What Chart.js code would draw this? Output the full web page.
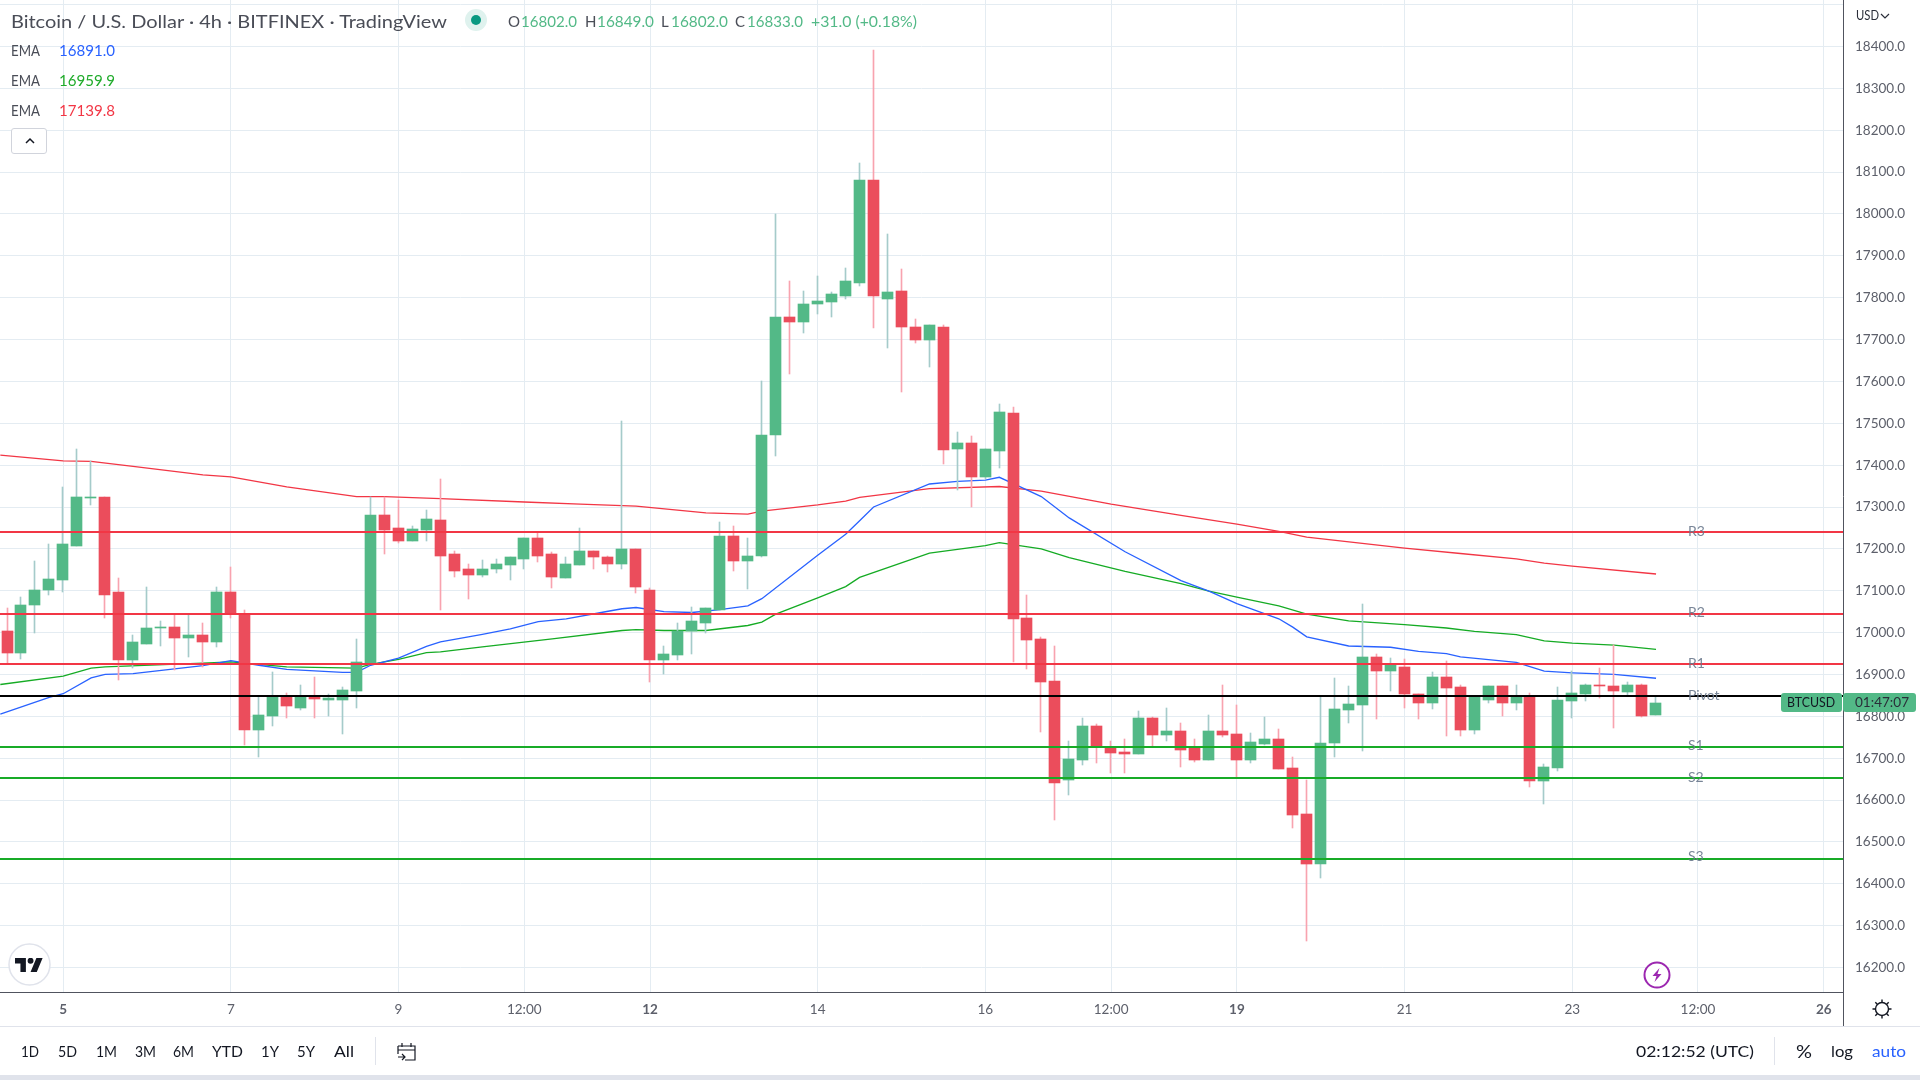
<!DOCTYPE html>
<html>
<head>
<meta charset="utf-8">
<script src="https://cdn.jsdelivr.net/npm/chart.js@4"></script>
<style>
html,body{margin:0;padding:0;background:#fff;overflow:hidden;width:1920px;height:1080px;font-family:"Lato",sans-serif}
canvas{position:absolute;left:0;top:0;display:block}
.t{position:absolute;white-space:nowrap;line-height:20px;height:20px;transform-origin:0 50%}
.g{color:#53b987}.k{color:#4a4d57}
.box{position:absolute;background:#53b987;border-radius:3px}
.ln{position:absolute;background:#e0e3eb}
svg{position:absolute}
</style>
</head>
<body>
<canvas id="c" width="1920" height="1080"></canvas>

<div class="ln" style="left:0;top:1026px;width:1920px;height:1px"></div>
<div class="ln" style="left:0;top:1075px;width:1920px;height:5px"></div>
<div class="ln" style="left:1843px;top:992px;width:1px;height:34px;background:#50535e"></div>
<div class="ln" style="left:375px;top:1037px;width:1px;height:28px"></div>
<div class="ln" style="left:1774px;top:1037px;width:1px;height:28px"></div>

<div class="t k" style="left:11px;top:11px;font-size:18px" data-w="436">Bitcoin / U.S. Dollar · 4h · BITFINEX · TradingView</div>
<svg style="left:465px;top:9px" width="22" height="22"><circle cx="11" cy="11" r="11" fill="#dff2ee"/><circle cx="11" cy="11" r="5" fill="#089981"/></svg>
<div class="t k" style="left:508px;top:11px;font-size:15px">O</div>
<div class="t g" style="left:521px;top:11px;font-size:15px" data-w="56">16802.0</div>
<div class="t k" style="left:585px;top:11px;font-size:15px">H</div>
<div class="t g" style="left:597px;top:11px;font-size:15px" data-w="57">16849.0</div>
<div class="t k" style="left:661px;top:11px;font-size:15px">L</div>
<div class="t g" style="left:671px;top:11px;font-size:15px" data-w="57">16802.0</div>
<div class="t k" style="left:735px;top:11px;font-size:15px">C</div>
<div class="t g" style="left:747px;top:11px;font-size:15px" data-w="56">16833.0</div>
<div class="t g" style="left:811px;top:11px;font-size:15px" data-w="106">+31.0 (+0.18%)</div>

<div class="t k" style="left:11px;top:40px;font-size:15px" data-w="29">EMA</div>
<div class="t" style="left:59px;top:40px;font-size:15px;color:#2962ff" data-w="56">16891.0</div>
<div class="t k" style="left:11px;top:70px;font-size:15px" data-w="29">EMA</div>
<div class="t" style="left:59px;top:70px;font-size:15px;color:#1fab2a" data-w="56">16959.9</div>
<div class="t k" style="left:11px;top:100px;font-size:15px" data-w="29">EMA</div>
<div class="t" style="left:59px;top:100px;font-size:15px;color:#f23645" data-w="56">17139.8</div>
<div style="position:absolute;left:11px;top:128px;width:36px;height:26px;box-sizing:border-box;border:1px solid #d1d4dc;border-radius:3px;background:#fff"></div>
<svg style="left:24px;top:136px" width="12" height="10"><path d="M2 7 L6 3 L10 7" fill="none" stroke="#131722" stroke-width="1.5"/></svg>

<div class="t" style="left:1856px;top:6px;font-size:12.5px;color:#2a2e39" data-w="23">USD</div>
<svg style="left:1880px;top:12px" width="10" height="8"><path d="M1 2 L5 6 L9 2" fill="none" stroke="#2a2e39" stroke-width="1.2"/></svg>

<div class="box" style="left:1781px;top:693px;width:61px;height:19px"></div>
<div class="t" style="left:1787px;top:693px;font-size:13.5px;color:#131722;height:19px;line-height:19px" data-w="48">BTCUSD</div>
<div class="box" style="left:1843px;top:693px;width:73px;height:19px"></div>
<div class="t" style="left:1855px;top:693px;font-size:13.5px;color:#2a2e39;height:19px;line-height:19px" data-w="54">01:47:07</div>

<svg style="left:8px;top:943px" width="43" height="43"><circle cx="21.5" cy="21.5" r="20.5" fill="#fff" stroke="#e0e3eb" stroke-width="1.5"/></svg>
<svg style="left:15px;top:958px" width="28" height="14" viewBox="0 4 36 18"><path fill="#131722" d="M14 22H7V11H0V4h14v18zM28 22h-8l7.5-18h8L28 22z"/><circle cx="20" cy="7.5" r="3.8" fill="#131722"/></svg>

<svg style="left:1643px;top:961px" width="28" height="28"><circle cx="14" cy="14" r="12.5" fill="#fff" stroke="#9c27b0" stroke-width="2"/><path d="M16.5 7 L9.5 15 H13.5 L11.5 21 L18.5 13 H14.5 Z" fill="#9c27b0"/></svg>

<svg style="left:1871px;top:998px" width="22" height="22" fill="none" stroke="#131722" stroke-width="1.4"><circle cx="11" cy="11" r="6.5"/><path d="M11 1.5v3M11 17.5v3M1.5 11h3M17.5 11h3M4.3 4.3l2 2M15.7 15.7l2 2M4.3 17.7l2-2M15.7 6.3l2-2"/></svg>

<div class="t" style="left:21px;top:1041px;font-size:16px;color:#131722" data-w="18">1D</div>
<div class="t" style="left:58px;top:1041px;font-size:16px;color:#131722" data-w="19">5D</div>
<div class="t" style="left:96px;top:1041px;font-size:16px;color:#131722" data-w="21">1M</div>
<div class="t" style="left:135px;top:1041px;font-size:16px;color:#131722" data-w="21">3M</div>
<div class="t" style="left:173px;top:1041px;font-size:16px;color:#131722" data-w="21">6M</div>
<div class="t" style="left:212px;top:1041px;font-size:16px;color:#131722" data-w="31">YTD</div>
<div class="t" style="left:261px;top:1041px;font-size:16px;color:#131722" data-w="18">1Y</div>
<div class="t" style="left:297px;top:1041px;font-size:16px;color:#131722" data-w="18">5Y</div>
<div class="t" style="left:334px;top:1041px;font-size:16px;color:#131722" data-w="20">All</div>
<svg style="left:396px;top:1040px" width="22" height="22" fill="none" stroke="#131722" stroke-width="1.2"><path d="M2 6h17v14H9M2 6v8M2 10h17M6 3v4M15 3v4M2 17h7M6 14l3 3-3 3"/></svg>

<div class="t" style="left:1636px;top:1041px;font-size:16px;color:#131722" data-w="118">02:12:52 (UTC)</div>
<div class="t" style="left:1796px;top:1041px;font-size:18px;color:#131722" data-w="16">%</div>
<div class="t" style="left:1831px;top:1041px;font-size:16px;color:#131722" data-w="22">log</div>
<div class="t" style="left:1872px;top:1041px;font-size:16px;color:#2962ff" data-w="34">auto</div>

<script>
const opens=[17003,16951,17065,17101,17125,17208,17321,17325,17096,16934,16972,17010,17013,16986,16994,16977,17096,17044,16767,16800,16845,16821,16845,16838,16838,16860,16924,17280,17249,17220,17244,17268,17187,17151,17137,17153,17161,17175,17225,17187,17130,17161,17194,17180,17165,17199,17101,16934,16946,17003,17024,17055,17230,17170,17182,17471,17753,17743,17784,17789,17805,17836,18080,17798,17817,17731,17698,17731,17438,17454,17371,17433,17524,17034,16984,16884,16647,16695,16776,16724,16714,16709,16795,16755,16764,16724,16695,16764,16757,16695,16733,16745,16676,16566,16447,16736,16814,16826,16941,16908,16917,16853,16833,16893,16869,16767,16838,16872,16833,16845,16645,16676,16836,16853,16874,16872,16857,16874,16802];
const highs=[17059,17084,17170,17211,17348,17438,17410,17325,17130,16994,17110,17027,17044,17044,17022,17110,17156,17053,16845,16905,16855,16874,16895,16853,16869,16984,17323,17323,17316,17254,17292,17366,17194,17163,17173,17175,17180,17225,17239,17192,17180,17249,17196,17182,17505,17199,17106,16967,17022,17060,17058,17263,17254,17227,17600,18001,17841,17817,17853,17813,17872,18121,18391,17951,17868,17748,17734,17734,17478,17469,17438,17545,17538,17091,16989,16967,16740,16795,16781,16740,16745,16812,16798,16819,16783,16745,16802,16874,16826,16760,16798,16769,16702,16647,16846,16891,16872,17068,16948,16939,16936,16853,16905,16931,16874,16845,16872,16872,16874,16855,16685,16869,16908,16877,16915,16970,16881,16877,16849];
const lows=[16926,16937,16999,17091,17096,17208,17304,17036,16886,16916,16972,16967,16910,16941,16917,16965,17034,16731,16702,16778,16795,16814,16795,16800,16757,16819,16924,17187,17213,17218,17220,17053,17134,17080,17132,17142,17125,17153,17168,17106,17130,17161,17153,17144,17153,17094,16881,16900,16934,16948,16998,17055,17146,17103,17180,17421,17617,17715,17762,17753,17798,17829,17727,17679,17574,17691,17634,17402,17340,17300,17368,17392,16929,16912,16762,16552,16611,16683,16688,16664,16664,16709,16728,16740,16678,16690,16695,16750,16654,16688,16731,16674,16533,16263,16413,16702,16783,16716,16793,16860,16819,16793,16817,16752,16752,16757,16831,16800,16814,16631,16590,16669,16795,16836,16843,16771,16849,16798,16802];
const closes=[16951,17065,17101,17127,17211,17323,17325,17091,16934,16977,17010,17013,16986,16994,16977,17096,17044,16767,16802,16845,16824,16845,16841,16843,16862,16929,17280,17244,17220,17247,17271,17184,17146,17137,17153,17163,17180,17225,17182,17132,17163,17194,17180,17163,17199,17108,16934,16948,17003,17027,17058,17230,17170,17182,17473,17753,17743,17786,17793,17808,17839,18080,17803,17813,17729,17698,17734,17435,17454,17371,17438,17526,17032,16982,16881,16640,16697,16776,16728,16712,16709,16795,16755,16764,16719,16695,16764,16755,16695,16738,16745,16674,16564,16447,16736,16817,16829,16941,16908,16922,16853,16833,16893,16867,16767,16845,16872,16833,16848,16645,16678,16838,16855,16874,16872,16860,16874,16800,16833];

const emaFastIdx=[-0.5,3,4,6,7,9,14,16,18,20,24,25,26,28,30,31,34,36,38,40,43,44,45,47,49,51,53,54,58,60,61,62,66,68,70,71,72,74,76,80,84,86,88,91,92,93,96,99,101,103,104,108,110,112,115,118];
const emaFastVal=[16805,16845,16854,16892,16900,16902,16921,16933,16922,16912,16905,16905,16922,16939,16967,16978,16996,17009,17026,17033,17051,17057,17060,17050,17048,17055,17064,17081,17185,17235,17267,17300,17355,17361,17364,17371,17356,17325,17274,17193,17124,17099,17069,17033,17013,16990,16968,16965,16955,16950,16942,16929,16908,16904,16900,16891];
const emaMidIdx=[-0.5,4,6,7,14,16,20,25,26,28,30,31,34,39,44,45,47,50,53,54,55,58,60,61,66,70,71,74,76,80,84,86,88,91,93,96,100,103,105,108,110,112,115,118];
const emaMidVal=[16876,16896,16915,16918,16927,16930,16918,16915,16924,16936,16952,16954,16966,16985,17005,17007,17005,17005,17017,17025,17044,17083,17110,17132,17190,17208,17215,17200,17179,17146,17117,17099,17085,17064,17044,17028,17019,17011,17003,16995,16980,16975,16970,16960];
const emaSlowIdx=[-0.5,4,6,9,14,16,20,25,27,31,37,41,45,50,53,54,58,60,61,66,71,74,79,84,88,91,93,100,104,108,110,112,118];
const emaSlowVal=[17424,17410,17409,17397,17377,17372,17348,17325,17325,17320,17312,17307,17302,17286,17283,17290,17305,17314,17323,17344,17349,17338,17307,17280,17259,17242,17228,17202,17189,17176,17166,17159,17140];

const levelNames=["R3","R2","R1","Pivot","S1","S2","S3"];
const levelValues=[17240.3,17044.4,16925,16848.5,16726.7,16652.7,16459.2];
const levelColors=["#f23645","#f23645","#f23645","#000000","#18ab27","#18ab27","#18ab27"];

const priceTicks=[16200,16300,16400,16500,16600,16700,16800,16900,17000,17100,17200,17300,17400,17500,17600,17700,17800,17900,18000,18100,18200,18300,18400,18500];
const timeTickIdx=[4,16,28,37,46,58,70,79,88,100,112,121,130];
const timeTickLabels=["5","7","9","12:00","12","14","16","12:00","19","21","23","12:00","26"];
const boldTimeLabels=["5","12","19","26"];

const UP="#53b987",DOWN="#eb4d5c",UPW="#a5cbca",DOWNW="#f8a3af";
const isUp=i=>closes[i]>=opens[i];
const xMin=-0.5225,xMax=131.38,yMin=16141.5,yMax=18511.1;
const FONT='"Lato",sans-serif';

const datasets=[
 {type:'bar',label:'wicks',order:4,grouped:false,barThickness:1,borderWidth:0,
  data:lows.map((l,i)=>({x:i,y:[l,highs[i]]})),
  backgroundColor:lows.map((l,i)=>isUp(i)?UPW:DOWNW)},
 {type:'bar',label:'bodies',order:3,grouped:false,barThickness:11,borderWidth:0,
  data:opens.map((o,i)=>({x:i,y:[o,closes[i]]})),
  backgroundColor:opens.map((o,i)=>isUp(i)?UP:DOWN)},
 {type:'line',label:'EMA fast',order:5,borderColor:"#2962ff",borderWidth:1.3,pointRadius:0,tension:0,
  data:emaFastIdx.map((x,i)=>({x,y:emaFastVal[i]}))},
 {type:'line',label:'EMA mid',order:5,borderColor:"#15ab24",borderWidth:1.3,pointRadius:0,tension:0,
  data:emaMidIdx.map((x,i)=>({x,y:emaMidVal[i]}))},
 {type:'line',label:'EMA slow',order:5,borderColor:"#f23645",borderWidth:1.3,pointRadius:0,tension:0,
  data:emaSlowIdx.map((x,i)=>({x,y:emaSlowVal[i]}))}
];
levelValues.forEach((v,i)=>datasets.push({type:'line',label:levelNames[i],order:1,borderColor:levelColors[i],borderWidth:2,pointRadius:0,
  data:[{x:xMin,y:v},{x:xMax,y:v}]}));

const snapBars={id:'snapBars',beforeDatasetsDraw(chart){
  chart.data.datasets.forEach((d,di)=>{
    if(d.type!=='bar')return;
    chart.getDatasetMeta(di).data.forEach(el=>{
      el.x=Math.floor(el.x-0.3)+0.5;
      let a=Math.round(el.y),b=Math.round(el.base);
      if(a===b)b=a+1;
      el.y=a;el.base=b;
    });
  });
}};
const levelOffsets=[-1,-2,-1,-1,-2,-1,-3];
const levelText={id:'levelText',afterDatasetsDraw(chart){
  const c=chart.ctx,y=chart.scales.y;
  c.save();c.font='14px '+FONT;c.fillStyle='rgba(105,120,140,0.9)';c.textAlign='left';c.textBaseline='middle';
  levelNames.forEach((n,i)=>c.fillText(n,1688,y.getPixelForValue(levelValues[i])+levelOffsets[i]));
  c.restore();
}};

new Chart(document.getElementById('c'),{
 type:'bar',
 data:{datasets},
 plugins:[snapBars,levelText],
 options:{
  responsive:false,animation:false,devicePixelRatio:1,events:[],
  layout:{padding:0},
  plugins:{legend:{display:false},tooltip:{enabled:false},title:{display:false}},
  scales:{
   x:{type:'linear',position:'bottom',min:xMin,max:xMax,offset:false,
    grid:{offset:false,color:"#e4ecf2",lineWidth:1,drawTicks:false},
    border:{display:true,color:"#50535e",width:1},
    afterBuildTicks:s=>{s.ticks=timeTickIdx.map(v=>({value:v}));},
    afterFit:s=>{s.height=88;s.paddingLeft=0;s.paddingRight=0;},
    ticks:{autoSkip:false,maxRotation:0,minRotation:0,padding:10,color:"#5d606b",
     font:ctx=>{const l=timeTickLabels[timeTickIdx.indexOf(ctx.tick&&ctx.tick.value)];return {family:FONT,size:13.5,weight:boldTimeLabels.includes(l)?'bold':'normal'};},
     callback:v=>timeTickLabels[timeTickIdx.indexOf(v)]}},
   y:{type:'linear',position:'right',min:yMin,max:yMax,
    grid:{color:"#e4ecf2",lineWidth:1,drawTicks:false},
    border:{display:true,color:"#50535e",width:1},
    afterBuildTicks:s=>{s.ticks=priceTicks.map(v=>({value:v}));},
    afterFit:s=>{s.width=77;s.paddingTop=0;s.paddingBottom=0;},
    ticks:{autoSkip:false,padding:12,color:"#5d606b",font:{family:FONT,size:13.5},
     callback:v=>v===18500?'':v.toFixed(1)}}
  }
 }
});

document.querySelectorAll('[data-w]').forEach(e=>{
  const w=e.getBoundingClientRect().width;
  e.style.transform='scaleX('+(parseFloat(e.dataset.w)/w)+')';
});
</script>
</body>
</html>
